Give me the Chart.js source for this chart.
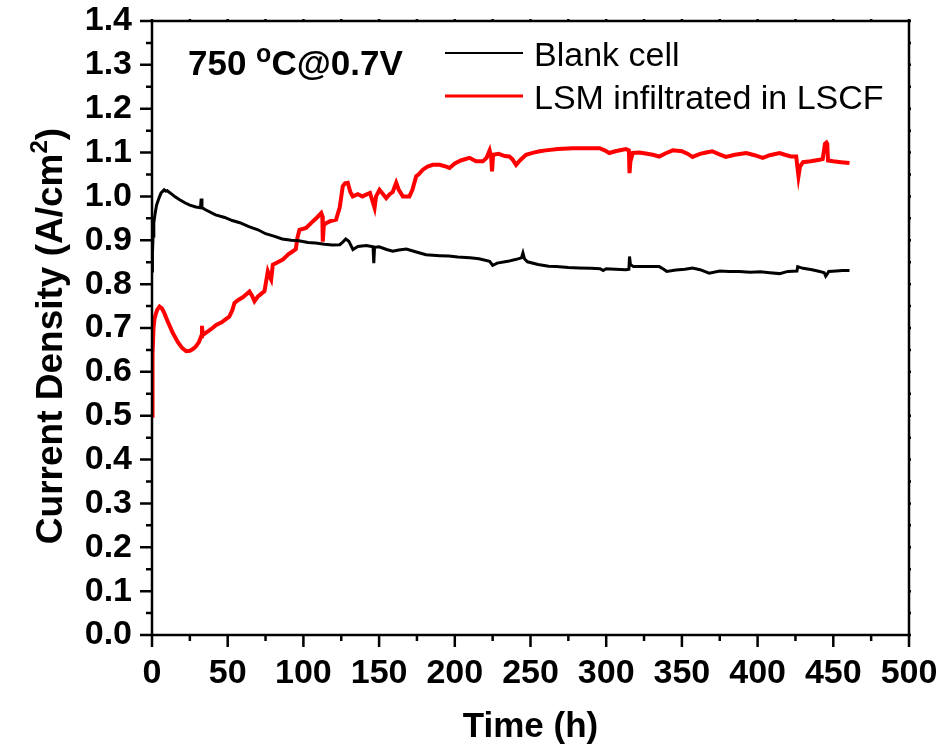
<!DOCTYPE html>
<html>
<head>
<meta charset="utf-8">
<script src="https://cdn.jsdelivr.net/npm/chart.js@4/dist/chart.umd.min.js"></script>
<style>
  html, body { margin: 0; padding: 0; background: #fff; }
  #wrap { width: 943px; height: 746px; position: relative; }
</style>
</head>
<body>
<div id="wrap"><canvas id="c" width="943" height="746"></canvas></div>
<script>
// ── data ──────────────────────────────────────────
var xTicks = [0, 50, 100, 150, 200, 250, 300, 350, 400, 450, 500];
var yTicks = [0.0, 0.1, 0.2, 0.3, 0.4, 0.5, 0.6, 0.7, 0.8, 0.9, 1.0, 1.1, 1.2, 1.3, 1.4];

var blankLabel = 'Blank cell';
var blankT = [0, 0.3, 0.7, 1.2, 2, 3, 4.5, 6, 8, 9, 10, 12, 15, 18, 22, 25, 29, 32, 32.5, 33,
  35, 42, 48, 53, 58, 64, 70, 75, 81, 86, 92, 97, 103, 108, 114, 119, 124, 126, 128, 130,
  132.7, 136, 141.5, 146, 146.5, 147, 150, 155, 159, 163, 168, 174, 181, 190, 196, 202, 210, 216, 223, 225,
  228, 235, 240, 244, 245, 246, 248, 255, 262, 267, 275, 282, 290, 296, 298, 300, 306, 313, 315, 315.4,
  316, 318, 325, 335, 338, 340, 346, 352, 357, 362, 368, 375, 381, 388, 395, 402, 408, 414.5, 420, 426,
  426.5, 430, 436, 441, 444, 445, 446, 447, 452, 456, 460.7];
var blankV = [0.83, 0.87, 0.91, 0.94, 0.96, 0.98, 0.995, 1.008, 1.015, 1.012, 1.013, 1.008, 1.0, 0.993, 0.985, 0.98, 0.976, 0.974, 0.995, 0.975,
  0.97, 0.958, 0.952, 0.945, 0.94, 0.931, 0.924, 0.915, 0.909, 0.903, 0.9, 0.899, 0.895, 0.894, 0.891, 0.889, 0.89, 0.896, 0.903, 0.898,
  0.879, 0.886, 0.888, 0.885, 0.848, 0.884, 0.885, 0.879, 0.875, 0.878, 0.88, 0.874, 0.867, 0.865, 0.864, 0.862, 0.86, 0.858, 0.852, 0.843,
  0.848, 0.852, 0.856, 0.86, 0.871, 0.858, 0.851, 0.845, 0.841, 0.84, 0.838, 0.837, 0.836, 0.835, 0.831, 0.835, 0.834, 0.833, 0.834, 0.863,
  0.845, 0.84, 0.84, 0.84, 0.834, 0.829, 0.832, 0.834, 0.837, 0.833, 0.825, 0.83, 0.829, 0.829, 0.827, 0.828, 0.826, 0.824, 0.829, 0.83,
  0.84, 0.836, 0.833, 0.829, 0.826, 0.818, 0.823, 0.829, 0.83, 0.831, 0.831];

var lsmLabel = 'LSM infiltrated in LSCF';
var lsmT = [0, 0.2, 0.5, 1, 1.6, 2.5, 3.5, 5, 6.5, 8, 10, 13.7, 17, 20, 22.6, 25, 27, 29, 31, 32.5,
  33, 33.5, 36, 40, 42.4, 46, 51, 53, 54.5, 57, 60, 64.4, 66, 67.7, 70, 74.3, 76.5, 78, 78.7, 79.8,
  83, 86.4, 90, 93, 95, 96, 97.4, 101.8, 106.2, 109, 111.8, 112.5, 112.8, 113.5, 115, 118, 121.6, 124, 126, 127.5,
  129.3, 131, 132.6, 136, 139, 141.5, 144, 147, 148, 150.3, 152, 154.7, 157, 159, 161.3, 163, 165.7, 170, 172, 174.5,
  176, 178.9, 182, 185.5, 190, 194.3, 196.5, 200, 204, 209.7, 214, 218.5, 221, 223, 224, 224.6, 225.3, 229, 233, 236,
  238, 240.5, 243, 247, 252, 256, 260, 268, 278, 287, 295.6, 299, 302, 306, 310, 313, 315, 315.4, 316, 317.6,
  322, 326, 330.8, 335, 339, 344, 350, 354, 357, 362, 366, 370, 374, 379, 385, 392.5, 398, 403.4, 408, 414.5,
  418, 422, 425.5, 427, 428, 430, 435, 440, 443, 444.5, 445.5, 446, 446.5, 450, 455, 460.7];
var lsmV = [0.50, 0.56, 0.64, 0.70, 0.72, 0.732, 0.742, 0.749, 0.745, 0.735, 0.718, 0.689, 0.668, 0.654, 0.647, 0.648, 0.652, 0.658, 0.668, 0.681,
  0.705, 0.684, 0.69, 0.70, 0.707, 0.713, 0.726, 0.74, 0.757, 0.764, 0.77, 0.783, 0.774, 0.761, 0.772, 0.784, 0.829, 0.815, 0.81, 0.844,
  0.85, 0.856, 0.868, 0.875, 0.88, 0.905, 0.924, 0.928, 0.943, 0.952, 0.962, 0.955, 0.897, 0.935, 0.939, 0.944, 0.947, 0.975, 1.023, 1.03,
  1.031, 1.01, 1.0, 1.005, 1.0, 1.004, 1.008, 0.974, 1.0, 1.015, 1.008, 0.996, 1.005, 1.01, 1.031, 1.015, 1.0, 1.0, 1.015, 1.046,
  1.05, 1.061, 1.068, 1.072, 1.072, 1.068, 1.065, 1.075, 1.082, 1.088, 1.08, 1.08, 1.088, 1.105, 1.09, 1.057, 1.095, 1.097, 1.092, 1.091,
  1.085, 1.072, 1.082, 1.095, 1.1, 1.103, 1.105, 1.108, 1.11, 1.11, 1.11, 1.105, 1.099, 1.103, 1.106, 1.108, 1.105, 1.053, 1.08, 1.099,
  1.1, 1.098, 1.095, 1.091, 1.098, 1.105, 1.103, 1.097, 1.09, 1.097, 1.1, 1.103, 1.097, 1.09, 1.095, 1.099, 1.094, 1.088, 1.094, 1.099,
  1.095, 1.091, 1.091, 1.046, 1.068, 1.078, 1.08, 1.083, 1.085, 1.12, 1.123, 1.12, 1.082, 1.08, 1.078, 1.076];

var xTitle = 'Time (h)';
var yTitle = 'Current Density (A/cm';
var yTitleSup = '2';
var noteParts = ['750 ', 'o', 'C@0.7V'];

// ── helpers ───────────────────────────────────────
function pts(ts, vs) {
  return ts.map(function (t, i) { return { x: t, y: vs[i] }; });
}

var FONT = '"Liberation Sans", Arial, sans-serif';

// frame, ticks, titles, legend and note
var decor = {
  id: 'decor',
  afterDraw: function (chart) {
    var c = chart.ctx, a = chart.chartArea;
    var xs = chart.scales.x, ys = chart.scales.y;
    c.save();
    c.strokeStyle = '#000';
    c.lineWidth = 2.5;
    c.strokeRect(a.left, a.top, a.right - a.left, a.bottom - a.top);

    // x ticks (major 50, minor 25)
    for (var t = 0; t <= 500; t += 25) {
      var px = xs.getPixelForValue(t);
      var major = t % 50 === 0;
      c.beginPath();
      c.moveTo(px, a.bottom); c.lineTo(px, a.bottom + (major ? 12 : 6));
      c.moveTo(px, a.top); c.lineTo(px, a.top - 2);
      c.stroke();
    }
    // y ticks (major 0.1, minor 0.05)
    for (var k = 0; k <= 28; k++) {
      var py = ys.getPixelForValue(k * 0.05);
      var maj = k % 2 === 0;
      c.beginPath();
      c.moveTo(a.left, py); c.lineTo(a.left - (maj ? 12 : 6), py);
      c.moveTo(a.right, py); c.lineTo(a.right + 2, py);
      c.stroke();
    }

    c.fillStyle = '#000';
    // x title
    c.font = 'bold 35px ' + FONT;
    c.textAlign = 'center';
    c.textBaseline = 'alphabetic';
    c.fillText(xTitle, (a.left + a.right) / 2, 737);

    // y title, rotated, with superscript
    c.save();
    c.translate(62, 336);
    c.rotate(-Math.PI / 2);
    c.textAlign = 'left';
    var bigF = 'bold 37px ' + FONT, supF = 'bold 24px ' + FONT;
    c.font = bigF;  var w1 = c.measureText(yTitle).width;
    c.font = supF;  var w2 = c.measureText(yTitleSup).width;
    c.font = bigF;  var w3 = c.measureText(')').width;
    var x0 = -(w1 + w2 + w3) / 2;
    c.fillText(yTitle, x0, 0);
    c.font = supF;  c.fillText(yTitleSup, x0 + w1, -15);
    c.font = bigF;  c.fillText(')', x0 + w1 + w2, 0);
    c.restore();

    // note top-left
    c.textAlign = 'left';
    c.font = 'bold 35px ' + FONT;
    var nx = 188;
    c.fillText(noteParts[0], nx, 75);
    nx += c.measureText(noteParts[0]).width;
    c.font = 'bold 25px ' + FONT;
    c.fillText(noteParts[1], nx, 62);
    nx += c.measureText(noteParts[1]).width;
    c.font = 'bold 35px ' + FONT;
    c.fillText(noteParts[2], nx, 75);

    // legend
    var ds = chart.data.datasets;
    var rows = [53, 96];
    c.font = '34px ' + FONT;
    ds.forEach(function (d, i) {
      c.strokeStyle = d.borderColor;
      c.lineWidth = i === 0 ? 2 : 3;
      c.beginPath();
      c.moveTo(445, rows[i]); c.lineTo(523, rows[i]);
      c.stroke();
      c.fillText(d.label, 534, rows[i] + 13);
    });
    c.restore();
  }
};

new Chart(document.getElementById('c').getContext('2d'), {
  type: 'scatter',
  data: {
    datasets: [
      { label: blankLabel, data: pts(blankT, blankV), borderColor: '#000', borderWidth: 3,
        showLine: true, pointRadius: 0, tension: 0 },
      { label: lsmLabel, data: pts(lsmT, lsmV), borderColor: '#ff0000', borderWidth: 4,
        showLine: true, pointRadius: 0, tension: 0 },
    ],
  },
  options: {
    responsive: false,
    animation: false,
    layout: { padding: { top: 21, right: 34, left: 0, bottom: 0 } },
    plugins: { legend: { display: false }, tooltip: { enabled: false } },
    scales: {
      x: {
        type: 'linear', min: 0, max: 500,
        grid: { display: false, drawTicks: false }, border: { display: false },
        afterBuildTicks: function (s) { s.ticks = xTicks.map(function (v) { return { value: v }; }); },
        ticks: { autoSkip: false, maxRotation: 0, padding: 18, color: '#000',
          font: { family: FONT, size: 34, weight: 'bold' } },
        afterFit: function (s) { s.height = 111; s.paddingLeft = 0; s.paddingRight = 0; },
      },
      y: {
        type: 'linear', min: 0, max: 1.4,
        grid: { display: false, drawTicks: false }, border: { display: false },
        afterBuildTicks: function (s) { s.ticks = yTicks.map(function (v) { return { value: v }; }); },
        ticks: { autoSkip: false, padding: 20, color: '#000',
          font: { family: FONT, size: 34, weight: 'bold' },
          callback: function (v) { return Number(v).toFixed(1); } },
        afterFit: function (s) { s.width = 152; s.paddingTop = 0; s.paddingBottom = 0; },
      },
    },
  },
  plugins: [decor],
});
</script>
</body>
</html>
